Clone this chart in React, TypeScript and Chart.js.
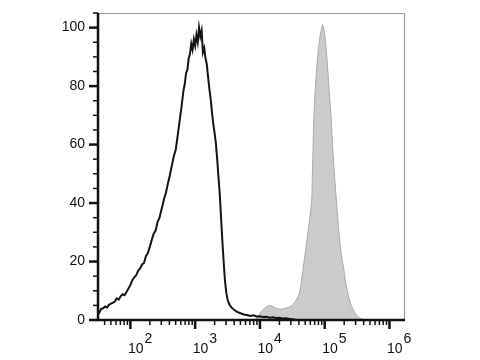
import React, { useEffect, useRef } from "react";
import { Chart, registerables } from "chart.js";

Chart.register(...registerables);

// Fluorescence intensity expressed as log10 exponent; counts normalised to mode (%)
const controlLog = [
  1.5, 1.52, 1.55, 1.58, 1.61, 1.64, 1.67, 1.7, 1.73, 1.76, 1.79, 1.82, 1.85, 1.88, 1.91, 1.94, 1.97,
  2.0, 2.03, 2.06, 2.09, 2.12, 2.15, 2.18, 2.21, 2.24, 2.27, 2.3, 2.33, 2.36, 2.39, 2.42, 2.45, 2.48,
  2.5, 2.52, 2.55, 2.58, 2.61, 2.64, 2.67, 2.7, 2.73, 2.76, 2.79, 2.82, 2.84, 2.86, 2.88, 2.9, 2.92,
  2.94, 2.96, 2.98, 3.0, 3.02, 3.04, 3.06, 3.08, 3.1, 3.12, 3.14, 3.16, 3.18, 3.2, 3.22, 3.24, 3.26,
  3.28, 3.3, 3.32, 3.34, 3.36, 3.38, 3.4, 3.42, 3.44, 3.46, 3.48, 3.5, 3.53, 3.56, 3.6, 3.65, 3.7,
  3.75, 3.8, 3.85, 3.9, 3.95, 4.0, 4.05, 4.1, 4.15, 4.2, 4.25, 4.3, 4.35, 4.4, 4.45, 4.5, 4.56,
];
const controlCount = [
  3.0, 2.5, 3.8, 4.0, 4.6, 4.3, 5.2, 5.6, 5.9, 6.3, 7.4, 7.0, 8.1, 8.8, 8.5, 9.6, 10.8,
  12.0, 13.6, 14.6, 15.3, 16.9, 17.6, 19.0, 19.5, 21.8, 22.9, 25.0, 27.4, 29.5, 30.6, 33.6, 35.0, 37.8,
  39.5, 41.5, 43.6, 46.8, 49.5, 52.8, 56.0, 58.2, 63.0, 68.0, 73.0, 78.5, 80.8, 84.5, 85.5, 89.5, 91.0,
  94.5, 92.5, 96.0, 93.8, 97.5, 95.0, 100.0, 97.0, 99.0, 91.5, 93.0, 89.5, 87.5, 83.0, 79.0, 75.5, 71.0,
  67.0, 64.0, 60.5, 55.0, 49.0, 43.0, 35.0, 27.0, 20.0, 13.5, 9.5, 7.0, 5.2, 4.3, 3.5, 2.8, 2.3,
  1.9, 1.7, 1.4, 1.6, 1.2, 1.3, 1.0, 1.1, 0.8, 0.9, 0.7, 0.8, 0.5, 0.6, 0.4, 0.3, 0.0,
];

const stainedLog = [
  3.92, 3.97, 4.02, 4.08, 4.13, 4.18, 4.23, 4.28, 4.33, 4.38, 4.42, 4.46, 4.52, 4.56, 4.61, 4.64,
  4.67, 4.7, 4.74, 4.77, 4.8, 4.81, 4.82, 4.83, 4.85, 4.88, 4.92, 4.95, 4.97, 4.99, 5.01, 5.04, 5.07,
  5.1, 5.12, 5.15, 5.18, 5.22, 5.26, 5.29, 5.33, 5.36, 5.4, 5.44, 5.48, 5.52, 5.56, 5.62,
];
const stainedCount = [
  0, 1.2, 2.8, 4.2, 4.9, 4.8, 4.2, 3.8, 3.7, 3.9, 4.2, 4.5, 5.5, 6.8, 9.2, 13.0,
  18.0, 23.0, 29.8, 35.0, 41.0, 50.0, 58.0, 68.0, 77.0, 87.0, 96.0, 99.5, 101.0, 99.0, 96.0, 88.0, 78.0,
  69.0, 60.0, 50.0, 41.0, 30.0, 22.0, 18.0, 12.0, 9.0, 5.5, 3.5, 2.0, 1.0, 0.4, 0,
];

const xDecades = [1, 2, 3, 4, 5, 6];
const xMajorLabels = ["2", "3", "4", "5", "6"];
const yLabelValues = [0, 20, 40, 60, 80, 100];

const FONT = '"Liberation Sans", Arial, sans-serif';

const flowAxes = {
  id: "flowAxes",
  afterDraw(chart: any) {
    const { ctx, chartArea, scales } = chart;
    const { left, right, top, bottom } = chartArea;
    const x = scales.x;
    const y = scales.y;
    ctx.save();
    // thin frame top/right
    ctx.strokeStyle = "#9a9a9a";
    ctx.lineWidth = 1.2;
    ctx.beginPath();
    ctx.moveTo(left, top + 0.5);
    ctx.lineTo(right - 0.5, top + 0.5);
    ctx.lineTo(right - 0.5, bottom);
    ctx.stroke();
    // axes
    ctx.strokeStyle = "#111";
    ctx.lineWidth = 2.5;
    ctx.beginPath();
    ctx.moveTo(left, top);
    ctx.lineTo(left, bottom);
    ctx.lineTo(right, bottom);
    ctx.stroke();
    // x ticks
    for (const n of xDecades) {
      for (let k = 1; k <= 9; k++) {
        const v = n + Math.log10(k);
        if (v < x.min || v > x.max) continue;
        const px = x.getPixelForValue(v);
        const major = k === 1;
        ctx.lineWidth = major ? 2.5 : 1.5;
        ctx.beginPath();
        ctx.moveTo(px, bottom);
        ctx.lineTo(px, bottom + (major ? 9 : 5));
        ctx.stroke();
      }
    }
    // y ticks
    for (const t of y.ticks) {
      const v = t.value;
      const py = y.getPixelForValue(v);
      const major = yLabelValues.includes(v);
      ctx.lineWidth = major ? 2.5 : 1.5;
      ctx.beginPath();
      ctx.moveTo(left, py);
      ctx.lineTo(left - (major ? 9 : 5), py);
      ctx.stroke();
    }
    // x labels: 10 with superscript exponent
    ctx.fillStyle = "#111";
    ctx.textBaseline = "alphabetic";
    ctx.textAlign = "left";
    xMajorLabels.forEach((e) => {
      const px = x.getPixelForValue(Number(e));
      ctx.font = `14px ${FONT}`;
      const base = "10";
      const w = ctx.measureText(base).width;
      const sx = px - 2.5;
      ctx.fillText(base, sx, 353);
      ctx.font = `14px ${FONT}`;
      ctx.fillText(e, sx + w + 1, 343);
    });
    ctx.restore();
  },
};

export default function App() {
  const ref = useRef<HTMLCanvasElement>(null);
  useEffect(() => {
    if (!ref.current) return;
    const chart = new Chart(ref.current, {
      type: "line",
      data: {
        datasets: [
          {
            label: "Control",
            data: controlLog.map((v, i) => ({ x: v, y: controlCount[i] })),
            borderColor: "#141414",
            borderWidth: 2,
            pointRadius: 0,
            tension: 0,
            fill: false,
            order: 0,
          },
          {
            label: "Stained",
            data: stainedLog.map((v, i) => ({ x: v, y: stainedCount[i] })),
            borderColor: "#a8a8a8",
            backgroundColor: "#cbcbcb",
            borderWidth: 1,
            pointRadius: 0,
            tension: 0.2,
            fill: "origin",
            order: 1,
          },
        ],
      },
      options: {
        responsive: false,
        animation: false,
        layout: { padding: { top: 13, right: 75, left: 0, bottom: 0 } },
        plugins: { legend: { display: false }, tooltip: { enabled: false } },
        scales: {
          x: {
            type: "linear",
            min: 1.5,
            max: 6.24,
            grid: { display: false },
            border: { display: false },
            ticks: { display: false },
            afterFit: (s: any) => {
              s.height = 40;
            },
          },
          y: {
            min: 0,
            max: 105,
            grid: {
              display: true,
              drawOnChartArea: false,
              color: "rgba(0,0,0,0)",
              tickColor: "rgba(0,0,0,0)",
              tickLength: 9,
            },
            border: { display: false },
            ticks: {
              stepSize: 5,
              autoSkip: false,
              padding: 4,
              color: "#111",
              font: { family: FONT, size: 14 },
              callback: (v: any) => (yLabelValues.includes(Number(v)) ? String(v) : ""),
            },
            afterFit: (s: any) => {
              s.width = 98;
            },
          },
        },
      },
      plugins: [flowAxes],
    });
    return () => chart.destroy();
  }, []);
  return (
    <div style={{ position: "absolute", left: 0, top: 0, width: 480, height: 360, background: "#fff" }}>
      <canvas ref={ref} width={480} height={360} style={{ display: "block" }} />
    </div>
  );
}
